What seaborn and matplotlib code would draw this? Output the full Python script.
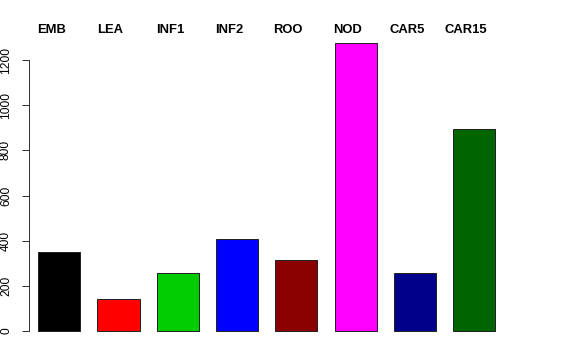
import matplotlib
matplotlib.use("Agg")
import matplotlib.pyplot as plt
import matplotlib.transforms as mtransforms
import seaborn as sns
import pandas as pd

categories = ["EMB", "LEA", "INF1", "INF2", "ROO", "NOD", "CAR5", "CAR15"]
values = [348, 143, 255, 407, 314, 1274, 258, 896]
colors = ["#000000", "#FF0000", "#00CD00", "#0000FF", "#8B0000", "#FF00FF", "#00008B", "#006400"]
yticks = [0, 200, 400, 600, 800, 1000, 1200]

sns.set_theme(style="white")
plt.rcParams['font.family'] = ['Liberation Sans', 'DejaVu Sans']
plt.rcParams['text.color'] = 'black'
plt.rcParams['ytick.color'] = 'black'
plt.rcParams['ytick.labelcolor'] = 'black'

df = pd.DataFrame({"cat": categories, "val": values})

fig = plt.figure(figsize=(8, 5), dpi=72)
px_left, px_right = 29, 503.7
px_bottom, px_top = 335.5, 37.5
ax = fig.add_axes([px_left / 576, (360 - px_bottom) / 360,
                   (px_right - px_left) / 576, (px_bottom - px_top) / 360])

sns.barplot(data=df, x="cat", y="val", hue="cat", palette=colors, order=categories,
            hue_order=categories, legend=False, width=0.71, edgecolor="#222222",
            linewidth=1.0, saturation=1, ax=ax)

ax.set_xlim(-0.511, 7.5)
ax.set_ylim(-20, 1300)
ax.set_xlabel("")
ax.set_ylabel("")
ax.set_xticks([])
for s in ["top", "right", "bottom"]:
    ax.spines[s].set_visible(False)
ax.spines["left"].set_bounds(0, 1200)
ax.spines["left"].set_color("#333333")
ax.spines["left"].set_linewidth(1.0)
ax.set_yticks(yticks)
ax.set_yticklabels([str(t) for t in yticks], rotation=90, va="center")
ax.tick_params(axis="y", left=True, length=7, width=1.0, color="#333333", pad=10,
               labelsize=12, labelcolor="black")

trans = mtransforms.blended_transform_factory(ax.transData, fig.transFigure)
for i, c in enumerate(categories):
    ax.text(i - 0.135, (360 - 30) / 360, c, transform=trans,
            ha="center", va="center", fontsize=13, fontweight="bold", color="black")

fig.savefig("out.png", dpi=72, facecolor="white")
